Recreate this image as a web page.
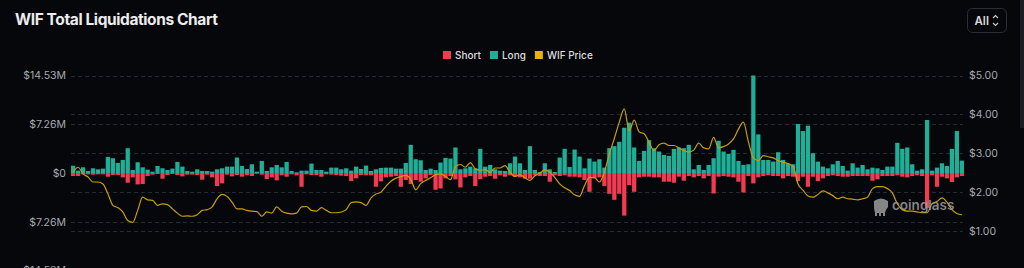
<!DOCTYPE html>
<html>
<head>
<meta charset="utf-8">
<script src="https://cdn.jsdelivr.net/npm/d3@7"></script>
<style>
  html, body { margin: 0; padding: 0; background: #05070b; }
  svg { display: block; font-family: Inter, "Noto Sans", sans-serif; }
</style>
</head>
<body>
<div class="chart"></div>
<script>
// liquidations in $M per day, price in $
const longs = [
  1.09, 0.35, 0.85, 0.3, 0.7, 0.55, 0.65, 2.4, 2.2, 1.5,
  1.95, 3.7, 0.45, 1.6, 0.85, 0.5, 0.2, 1.05, 0.7, 0.45,
  0.65, 1.65, 0.95, 0.3, 0.2, 0.55, 0.3, 0.3, 0.2, 0.55,
  0.7, 0.95, 0.95, 2.3, 1.05, 0.6, 1.3, 0.2, 1.8, 0.3,
  0.85, 1.2, 0.85, 1.65, 0.3, 0.1, 0.35, 0.35, 1.4, 0.45,
  0.45, 0.2, 0.8, 0.8, 0.55, 0.7, 0.35, 0.95, 0.6, 1.1,
  0.3, 0.55, 0.75, 0.8, 0.8, 0.65, 0.65, 1.5, 4.2, 2.05,
  1.9, 0.45, 0.65, 0.45, 1.55, 2.25, 2.15, 3.8, 0.55, 0.7,
  0.95, 0.7, 3.6, 0.95, 1.2, 0.55, 0.35, 0.3, 1.45, 2.45,
  1.45, 0.45, 4.0, 0.45, 0.15, 1.45, 0.55, 0.15, 2.3, 3.6,
  0.9, 3.5, 2.45, 0.7, 2.15, 1.7, 2.05, 0.8, 3.7, 4.0,
  4.65, 6.75, 7.5, 3.8, 1.8, 3.3, 4.9, 3.7, 3.2, 2.7,
  2.55, 3.6, 3.8, 3.7, 4.2, 0.55, 1.2, 0.45, 1.2, 2.2,
  4.8, 3.2, 2.85, 3.45, 1.8, 1.2, 1.3, 14.53, 5.75, 1.95,
  1.95, 1.7, 3.1, 1.95, 1.45, 1.3, 7.3, 6.25, 7.05, 2.95,
  1.7, 0.95, 0.7, 1.3, 1.8, 1.05, 0.35, 1.45, 0.8, 1.2,
  0.55, 0.8, 0.7, 0.45, 0.95, 0.95, 4.5, 3.6, 3.8, 1.3,
  0.35, 0.55, 7.9, 0.35, 0.8, 1.45, 1.05, 3.6, 6.25, 1.85
];
const shorts = [
  0.45, 0.45, 0.2, 0.2, 0.25, 0.2, 0.2, 0.55, 0.3, 0.3,
  0.65, 1.45, 0.65, 1.7, 1.65, 0.45, 0.25, 0.15, 0.85, 0.3,
  0.15, 0.3, 0.5, 0.25, 0.25, 0.3, 1.0, 0.25, 0.65, 1.95,
  1.55, 0.25, 0.5, 0.3, 0.55, 0.35, 0.45, 0.1, 0.25, 0.9,
  0.65, 1.1, 0.35, 0.55, 0.2, 0.35, 2.05, 0.2, 0.3, 0.3,
  0.55, 0.2, 0.25, 0.3, 0.4, 0.45, 1.2, 0.8, 0.3, 0.35,
  0.35, 2.05, 1.25, 0.65, 0.55, 0.45, 2.05, 1.05, 1.65, 1.05,
  1.3, 0.8, 0.3, 2.5, 2.3, 0.8, 0.45, 0.95, 2.15, 0.65,
  0.45, 1.95, 0.9, 0.55, 0.45, 0.85, 0.35, 0.55, 0.35, 0.55,
  0.65, 0.85, 0.85, 0.35, 0.45, 0.45, 1.3, 0.35, 0.45, 0.35,
  0.55, 0.55, 0.65, 1.05, 2.8, 0.8, 0.65, 1.95, 3.1, 4.0,
  3.1, 6.35, 1.8, 2.8, 0.65, 0.55, 0.55, 0.65, 0.65, 1.3,
  1.3, 1.45, 0.55, 1.15, 0.45, 0.65, 0.45, 0.8, 0.45, 3.05,
  0.55, 0.45, 0.55, 0.65, 1.3, 2.9, 0.45, 1.55, 0.65, 0.45,
  0.35, 0.45, 0.45, 0.8, 0.45, 0.55, 1.2, 0.55, 2.05, 0.55,
  1.2, 0.8, 0.45, 0.35, 0.45, 0.55, 0.55, 0.45, 0.45, 0.45,
  0.45, 1.15, 0.95, 0.45, 0.45, 0.45, 0.35, 0.55, 0.65, 0.45,
  0.35, 0.45, 5.2, 0.35, 2.05, 0.55, 0.8, 1.35, 0.65, 0.45
];
const prices = [
  2.51, 2.64, 2.47, 2.39, 2.26, 2.26, 2.21, 1.96, 1.66, 1.60,
  1.49, 1.27, 1.22, 1.53, 1.87, 1.80, 1.79, 1.66, 1.70, 1.68,
  1.57, 1.46, 1.38, 1.39, 1.38, 1.42, 1.53, 1.55, 1.62, 1.83,
  1.94, 1.89, 1.74, 1.57, 1.57, 1.53, 1.51, 1.50, 1.38, 1.49,
  1.46, 1.62, 1.51, 1.46, 1.44, 1.46, 1.62, 1.63, 1.53, 1.51,
  1.60, 1.53, 1.47, 1.47, 1.49, 1.55, 1.73, 1.75, 1.73, 1.66,
  1.85, 1.95, 2.00, 2.15, 2.28, 2.36, 2.40, 2.43, 2.33, 2.06,
  2.22, 2.30, 2.37, 2.45, 2.47, 2.40, 2.32, 2.66, 2.71, 2.64,
  2.76, 2.60, 2.56, 2.58, 2.51, 2.62, 2.62, 2.68, 2.51, 2.40,
  2.45, 2.37, 2.30, 2.42, 2.49, 2.57, 2.51, 2.38, 2.21, 2.11,
  2.04, 1.93, 1.89, 2.17, 2.38, 2.37, 2.26, 2.52, 2.98, 3.38,
  3.80, 4.14, 3.58, 3.85, 3.55, 3.50, 3.28, 3.07, 3.22, 3.26,
  3.20, 3.20, 3.14, 3.07, 3.03, 3.08, 3.26, 3.14, 3.11, 3.41,
  3.14, 3.17, 3.24, 3.37, 3.62, 3.80, 3.30, 2.88, 2.81, 2.94,
  2.91, 2.88, 2.81, 2.77, 2.73, 2.66, 2.21, 2.05, 1.90, 1.87,
  1.94, 2.03, 1.98, 1.91, 1.83, 1.87, 1.83, 1.82, 1.80, 1.83,
  1.87, 2.09, 2.14, 2.14, 2.09, 1.98, 1.70, 1.55, 1.51, 1.51,
  1.49, 1.47, 1.47, 1.70, 1.76, 1.85, 1.74, 1.55, 1.45, 1.42
];
const leftTicks = [14.53, 7.26, 0, -7.26, -14.53];
const rightTicks = [5, 4, 3, 2, 1];
const legendItems = [
  { name: 'Short', color: '#f23a52' },
  { name: 'Long', color: '#1fae96' },
  { name: 'WIF Price', color: '#e9b109' },
];

const width = 1024;
const height = 268;
const plot = { left: 71, right: 964, top: 75.5, bottom: 270.5 };

const svg = d3
  .select('.chart')
  .append('svg')
  .attr('width', width)
  .attr('height', height);

svg.append('rect').attr('width', width).attr('height', height).attr('fill', '#05070b');

const xScale = d3
  .scaleBand()
  .domain(d3.range(longs.length))
  .range([plot.left, plot.right])
  .paddingInner(0.14);
const yLeft = d3
  .scaleLinear()
  .domain([-14.53, 14.53])
  .range([plot.bottom, plot.top]);
const yRight = d3
  .scaleLinear()
  .domain([1, 5])
  .range([231, 75.5]);

// title + "All" dropdown
svg
  .append('text')
  .attr('x', 15)
  .attr('y', 25)
  .attr('fill', '#ececec')
  .attr('font-size', '15.5px')
  .attr('font-weight', 700)
  .attr('letter-spacing', '-0.4px')
  .text('WIF Total Liquidations Chart');

const drop = svg.append('g').attr('transform', 'translate(967.5, 8.5)');
drop
  .append('rect')
  .attr('width', 39)
  .attr('height', 24)
  .attr('rx', 5)
  .attr('fill', 'none')
  .attr('stroke', '#2b2e36');
drop
  .append('text')
  .attr('x', 7)
  .attr('y', 16)
  .attr('fill', '#d8d8d8')
  .attr('font-size', '11.5px')
  .attr('font-weight', 600)
  .text('All');
drop
  .append('path')
  .attr('d', 'M25.5,9.5 L28,7 L30.5,9.5 M25.5,14.5 L28,17 L30.5,14.5')
  .attr('fill', 'none')
  .attr('stroke', '#cfcfcf')
  .attr('stroke-width', 1.1);

// scrollbar strip on the right edge
svg.append('rect').attr('x', 1020).attr('y', 0).attr('width', 4).attr('height', 128).attr('fill', '#1b1d22');

// legend
const legend = svg.append('g').attr('transform', 'translate(443, 51)');
let lx = 0;
legendItems.forEach(item => {
  const g = legend.append('g').attr('transform', `translate(${lx}, 0)`);
  g.append('rect').attr('width', 8).attr('height', 8).attr('fill', item.color);
  const t = g
    .append('text')
    .attr('x', 12)
    .attr('y', 7.5)
    .attr('fill', '#dedede')
    .attr('font-size', '10px')
    .attr('font-weight', 500)
    .text(item.name);
  lx += 12 + t.node().getComputedTextLength() + 9;
});

// grid lines from both axes
const gridYs = leftTicks.map(d => yLeft(d)).concat(rightTicks.map(d => yRight(d)));
svg
  .append('g')
  .selectAll('line')
  .data(gridYs)
  .enter()
  .append('line')
  .attr('x1', plot.left)
  .attr('x2', plot.right - 1)
  .attr('y1', d => Math.round(d) + 0.5)
  .attr('y2', d => Math.round(d) + 0.5)
  .attr('stroke', '#262a33')
  .attr('stroke-dasharray', '4,3');

// axes
const fmtLeft = d => (d === 0 ? '$0' : `$${Math.abs(d).toFixed(2)}M`);
const leftAxis = svg
  .append('g')
  .attr('transform', `translate(${plot.left - 5}, 0)`)
  .call(
    d3
      .axisLeft(yLeft)
      .tickValues(leftTicks)
      .tickFormat(fmtLeft)
      .tickSize(0)
      .tickPadding(0),
  );
const rightAxis = svg
  .append('g')
  .attr('transform', `translate(${plot.right + 5}, 0)`)
  .call(
    d3
      .axisRight(yRight)
      .tickValues(rightTicks)
      .tickFormat(d => `$${d.toFixed(2)}`)
      .tickSize(0)
      .tickPadding(0),
  );
[leftAxis, rightAxis].forEach(ax => {
  ax.select('.domain').remove();
  ax.selectAll('text')
    .attr('fill', '#a7a9ae')
    .attr('font-size', '10.5px')
    .attr('font-family', 'Inter, "Noto Sans", sans-serif');
});

// bars
const zeroY = yLeft(0);
svg
  .append('g')
  .selectAll('rect')
  .data(longs)
  .enter()
  .append('rect')
  .attr('x', (d, i) => xScale(i))
  .attr('y', d => yLeft(d))
  .attr('width', xScale.bandwidth())
  .attr('height', d => zeroY - yLeft(d))
  .attr('fill', legendItems[1].color);
svg
  .append('g')
  .selectAll('rect')
  .data(shorts)
  .enter()
  .append('rect')
  .attr('x', (d, i) => xScale(i))
  .attr('y', zeroY)
  .attr('width', xScale.bandwidth())
  .attr('height', d => yLeft(-d) - zeroY)
  .attr('fill', legendItems[0].color);

// price line
const priceLine = d3
  .line()
  .x((d, i) => xScale(i) + xScale.bandwidth() / 2)
  .y(d => yRight(d))
  .curve(d3.curveMonotoneX);
svg
  .append('path')
  .datum(prices)
  .attr('d', priceLine)
  .attr('fill', 'none')
  .attr('stroke', '#c99d0a')
  .attr('stroke-width', 1.2);

// watermark
const mark = svg.append('g').attr('opacity', 0.85);
mark
  .append('path')
  .attr('d', 'M874,201 q7,-5 14,0 l0,6 q-2,2 -3,6 l0,3 l-2,0 l0,-3 l-2,0 l0,3 l-2,0 l0,-3 l-2,0 l0,3 l-2,0 l0,-3 q-1,-4 -1,-6 z')
  .attr('fill', '#9b9b9b');
mark
  .append('text')
  .attr('x', 892)
  .attr('y', 210)
  .attr('fill', '#9b9b9b')
  .attr('font-size', '13.5px')
  .attr('font-weight', 600)
  .text('coinglass');
</script>
</body>
</html>
